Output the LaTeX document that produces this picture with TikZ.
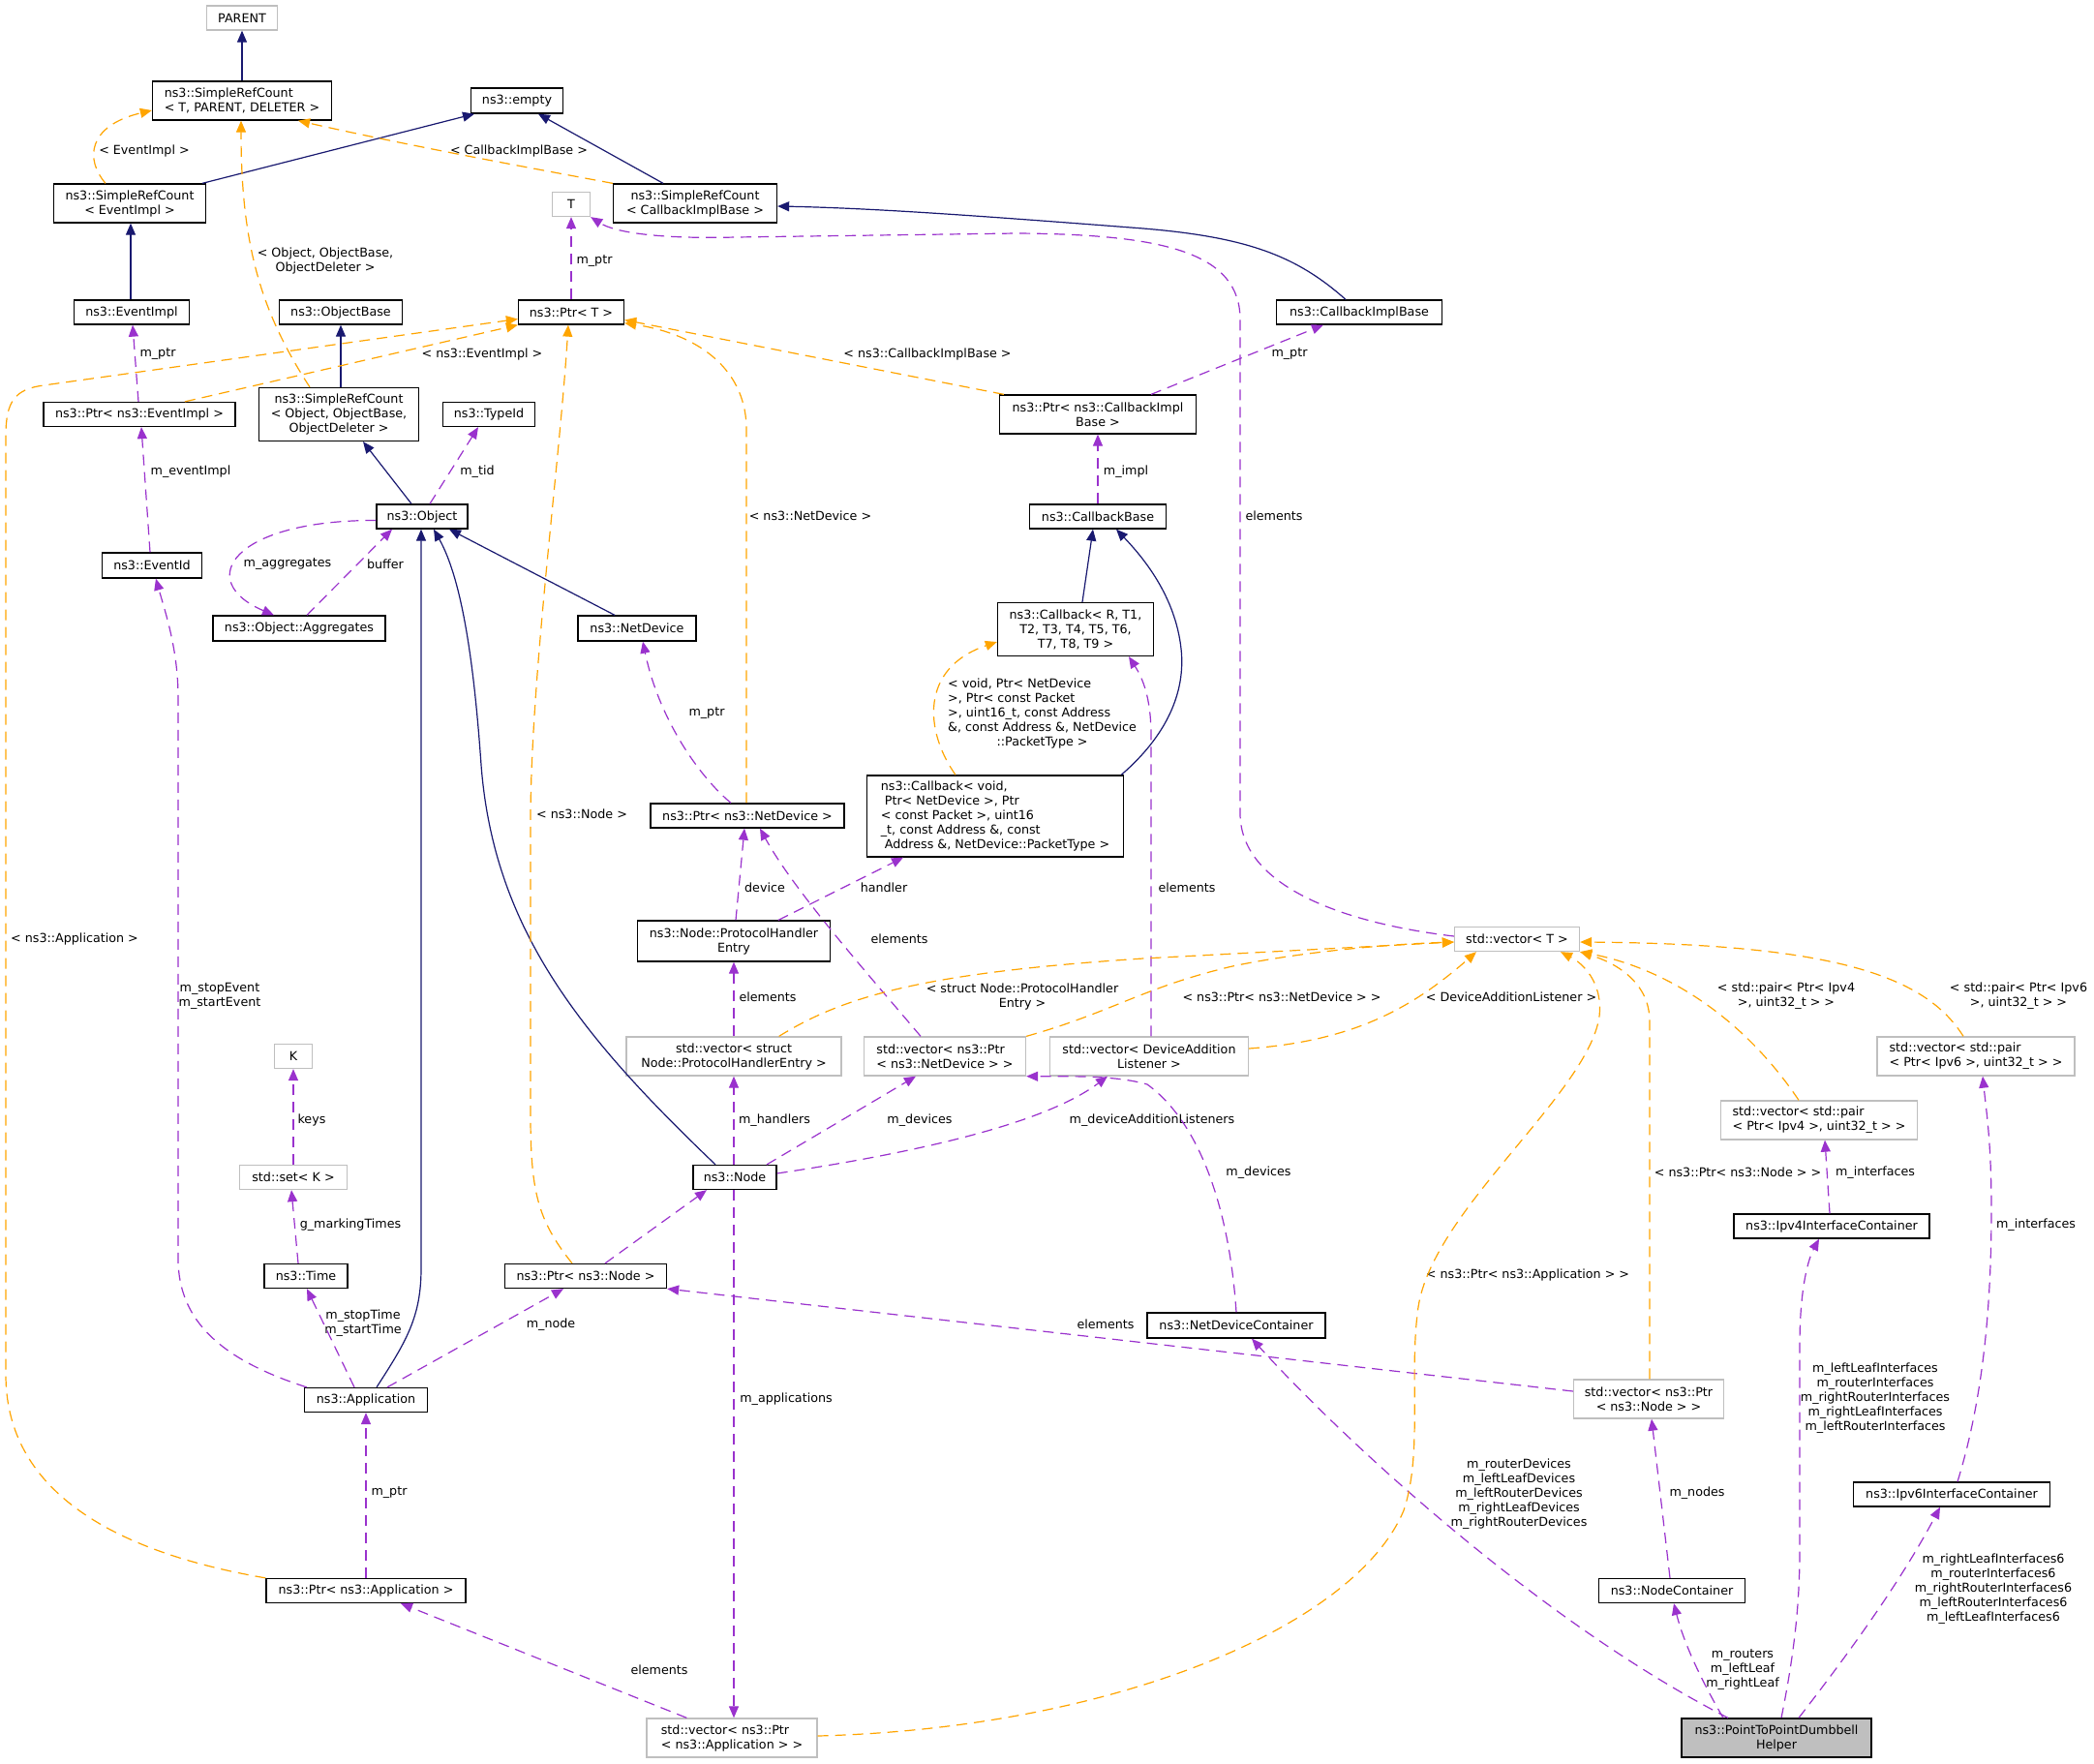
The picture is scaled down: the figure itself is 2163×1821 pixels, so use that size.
\documentclass[tikz,border=0pt]{standalone}
\usepackage{fontspec}
\setmainfont{DejaVu Sans}
\usetikzlibrary{arrows.meta,calc}
\definecolor{navy}{HTML}{191970}
\definecolor{purp}{HTML}{9A32CD}
\definecolor{orng}{HTML}{FFA500}
\definecolor{gbd}{HTML}{BFBFBF}
\newcommand\dxf{\fontsize{12.7}{15}\selectfont}
\begin{document}
\begin{tikzpicture}[x=1pt,y=-1pt,
 cbox/.style={draw=black, line width=1.3pt, fill=white, inner sep=0pt, minimum height=25pt, align=center, font=\dxf},
 gbox/.style={cbox, draw=gbd},
 lab/.style={inner sep=0pt, align=center, font=\dxf},
 inhl/.style={draw=navy, line width=1.2pt, -{Triangle[length=12pt,width=10pt]}},
 usel/.style={draw=purp, line width=1.2pt, dash pattern=on 11pt off 7pt, -{Triangle[length=12pt,width=10pt]}},
 tpll/.style={draw=orng, line width=1.2pt, dash pattern=on 11pt off 7pt, -{Triangle[length=12pt,width=10pt]}}]
\fill[white] (0,0) rectangle (2163,1821);
\useasboundingbox (0,0) rectangle (2163,1821);

% nodes
\node[gbox, minimum width=73pt] (parent) at (250,18.5) {PARENT};
\node[cbox, minimum width=185pt, minimum height=40pt, align=left] (srcTPD) at (250,104) {ns3::SimpleRefCount\\< T, PARENT, DELETER >};
\node[cbox, minimum width=95pt, minimum height=26pt] (empty) at (534,104) {ns3::empty};
\node[cbox, minimum width=157pt, minimum height=40pt] (srcEI) at (134,210) {ns3::SimpleRefCount\\< EventImpl >};
\node[gbox, minimum width=39pt] (T) at (590,211) {T};
\node[cbox, minimum width=169pt, minimum height=40pt] (srcCIB) at (718,210) {ns3::SimpleRefCount\\< CallbackImplBase >};
\node[cbox, minimum width=119pt] (eventimpl) at (136,322.5) {ns3::EventImpl};
\node[cbox, minimum width=127pt] (objectbase) at (352,322.5) {ns3::ObjectBase};
\node[cbox, minimum width=109pt] (ptrT) at (590,322.5) {ns3::Ptr< T >};
\node[cbox, minimum width=171pt] (cib) at (1404,322.5) {ns3::CallbackImplBase};
\node[cbox, minimum width=198pt] (ptrEI) at (144,428) {ns3::Ptr< ns3::EventImpl >};
\node[cbox, minimum width=165pt, minimum height=55pt] (srcO) at (350,428) {ns3::SimpleRefCount\\< Object, ObjectBase,\\ ObjectDeleter >};
\node[cbox, minimum width=95pt] (typeid) at (505,428) {ns3::TypeId};
\node[cbox, minimum width=203pt, minimum height=40pt] (ptrCIB) at (1134,428) {ns3::Ptr< ns3::CallbackImpl\\Base >};
\node[cbox, minimum width=94pt] (object) at (436,533.5) {ns3::Object};
\node[cbox, minimum width=141pt] (cbbase) at (1134,533.5) {ns3::CallbackBase};
\node[cbox, minimum width=103pt, minimum height=26pt] (eventid) at (157,584) {ns3::EventId};
\node[cbox, minimum width=178pt, minimum height=26pt] (aggregates) at (309,649) {ns3::Object::Aggregates};
\node[cbox, minimum width=122pt, minimum height=26pt] (netdevice) at (658,649) {ns3::NetDevice};
\node[cbox, minimum width=161pt, minimum height=55pt] (cbR) at (1111,650) {ns3::Callback< R, T1,\\T2, T3, T4, T5, T6,\\T7, T8, T9 >};
\node[cbox, minimum width=200pt] (ptrND) at (772,842.5) {ns3::Ptr< ns3::NetDevice >};
\node[cbox, minimum width=265pt, minimum height=84pt, align=left] (cbvoid) at (1028,843) {ns3::Callback< void,\\\hspace*{4pt}Ptr< NetDevice >, Ptr\\< const Packet >, uint16\\\_t, const Address \&, const\\\hspace*{4pt}Address \&, NetDevice::PacketType >};
\node[cbox, minimum width=199pt, minimum height=42pt] (phe) at (758,972) {ns3::Node::ProtocolHandler\\Entry};
\node[gbox, minimum width=129pt] (vecT) at (1567,970) {std::vector< T >};
\node[gbox, minimum width=222pt, minimum height=40pt] (vecsPHE) at (758,1091) {std::vector< struct\\Node::ProtocolHandlerEntry >};
\node[gbox, minimum width=167pt, minimum height=40pt, align=left] (vecPND) at (976,1091) {std::vector< ns3::Ptr\\< ns3::NetDevice > >};
\node[gbox, minimum width=205pt, minimum height=40pt] (vecDAL) at (1187,1091) {std::vector< DeviceAddition\\Listener >};
\node[gbox, minimum width=204pt, minimum height=40pt, align=left] (vecP6) at (2041,1091) {std::vector< std::pair\\< Ptr< Ipv6 >, uint32\_t > >};
\node[gbox, minimum width=39pt] (K) at (303,1091) {K};
\node[gbox, minimum width=203pt, minimum height=40pt, align=left] (vecP4) at (1879,1157) {std::vector< std::pair\\< Ptr< Ipv4 >, uint32\_t > >};
\node[gbox, minimum width=111pt] (setK) at (303,1216) {std::set< K >};
\node[cbox, minimum width=86pt] (node) at (759,1216) {ns3::Node};
\node[cbox, minimum width=202pt] (ipv4ic) at (1892,1266.5) {ns3::Ipv4InterfaceContainer};
\node[cbox, minimum width=86pt] (time) at (316,1318) {ns3::Time};
\node[cbox, minimum width=167pt] (ptrNode) at (605,1318) {ns3::Ptr< ns3::Node >};
\node[cbox, minimum width=184pt, minimum height=26pt] (ndc) at (1277,1369) {ns3::NetDeviceContainer};
\node[gbox, minimum width=155pt, minimum height=40pt] (vecPNode) at (1703,1445) {std::vector< ns3::Ptr\\< ns3::Node > >};
\node[cbox, minimum width=127pt] (application) at (378,1446) {ns3::Application};
\node[cbox, minimum width=203pt] (ipv6ic) at (2016,1543.5) {ns3::Ipv6InterfaceContainer};
\node[cbox, minimum width=206pt] (ptrApp) at (378,1643) {ns3::Ptr< ns3::Application >};
\node[cbox, minimum width=151pt] (nodecontainer) at (1727,1643) {ns3::NodeContainer};
\node[gbox, minimum width=176pt, minimum height=40pt, align=left] (vecPApp) at (756,1795) {std::vector< ns3::Ptr\\< ns3::Application > >};
\node[cbox, fill=gbd, minimum width=196pt, minimum height=40pt] (helper) at (1835,1795) {ns3::PointToPointDumbbell\\Helper};

% labels
\node[lab] (la1) at (149,156) {< EventImpl >};
\node[lab] (la2) at (536,156) {< CallbackImplBase >};
\node[lab] (la3) at (336,269) {< Object, ObjectBase,\\ ObjectDeleter >};
\node[lab] (la4) at (614,270) {m\_ptr};
\node[lab] (la5) at (163,366) {m\_ptr};
\node[lab] (la6) at (498,366) {< ns3::EventImpl >};
\node[lab] (la7) at (958,366) {< ns3::CallbackImplBase >};
\node[lab] (la8) at (1332,366) {m\_ptr};
\node[lab] (la9) at (197,487) {m\_eventImpl};
\node[lab] (la10) at (493,487) {m\_tid};
\node[lab] (la11) at (1163,487) {m\_impl};
\node[lab] (la12) at (297,583) {m\_aggregates};
\node[lab] (la13) at (398,583) {buffer};
\node[lab] (la14) at (837,533) {< ns3::NetDevice >};
\node[lab] (la15) at (1316,533) {elements};
\node[lab, anchor=west] (la16) at (979,737) {\begin{tabular}{@{}l@{}}< void, Ptr< NetDevice\\>, Ptr< const Packet\\>, uint16\_t, const Address\\\&, const Address \&, NetDevice\\\multicolumn{1}{@{}c@{}}{::PacketType >}\end{tabular}};
\node[lab] (la17) at (730,737) {m\_ptr};
\node[lab] (la18) at (601,841) {< ns3::Node >};
\node[lab] (la19) at (790,917) {device};
\node[lab] (la20) at (913,917) {handler};
\node[lab] (la21) at (1226,917) {elements};
\node[lab] (la22) at (929,970) {elements};
\node[lab] (la23) at (77,970) {< ns3::Application >};
\node[lab] (la24) at (1056,1029) {< struct Node::ProtocolHandler\\Entry >};
\node[lab] (la25) at (793,1030) {elements};
\node[lab] (la26) at (1324,1030) {< ns3::Ptr< ns3::NetDevice > >};
\node[lab] (la27) at (1561,1030) {< DeviceAdditionListener >};
\node[lab] (la28) at (1845,1029) {< std::pair< Ptr< Ipv4\\>, uint32\_t > >};
\node[lab] (la29) at (2085,1029) {< std::pair< Ptr< Ipv6\\>, uint32\_t > >};
\node[lab] (la30) at (227,1029) {m\_stopEvent\\m\_startEvent};
\node[lab] (la31) at (322,1157) {keys};
\node[lab] (la32) at (800,1157) {m\_handlers};
\node[lab] (la33) at (950,1157) {m\_devices};
\node[lab] (la34) at (1190,1157) {m\_deviceAdditionListeners};
\node[lab] (la35) at (1300,1211) {m\_devices};
\node[lab] (la36) at (1795,1211) {< ns3::Ptr< ns3::Node > >};
\node[lab] (la37) at (1937,1211) {m\_interfaces};
\node[lab] (la38) at (362,1265) {g\_markingTimes};
\node[lab] (la39) at (2103,1265) {m\_interfaces};
\node[lab] (la40) at (1578,1317) {< ns3::Ptr< ns3::Application > >};
\node[lab] (la41) at (375,1367) {m\_stopTime\\m\_startTime};
\node[lab] (la42) at (569,1368) {m\_node};
\node[lab] (la43) at (1142,1368) {elements};
\node[lab] (la44) at (1937,1444) {m\_leftLeafInterfaces\\m\_routerInterfaces\\m\_rightRouterInterfaces\\m\_rightLeafInterfaces\\m\_leftRouterInterfaces};
\node[lab] (la45) at (812,1445) {m\_applications};
\node[lab] (la46) at (1569,1543) {m\_routerDevices\\m\_leftLeafDevices\\m\_leftRouterDevices\\m\_rightLeafDevices\\m\_rightRouterDevices};
\node[lab] (la47) at (402,1542) {m\_ptr};
\node[lab] (la48) at (1753,1542) {m\_nodes};
\node[lab] (la49) at (2059,1641) {m\_rightLeafInterfaces6\\m\_routerInterfaces6\\m\_rightRouterInterfaces6\\m\_leftRouterInterfaces6\\m\_leftLeafInterfaces6};
\node[lab] (la50) at (681,1725) {elements};
\node[lab] (la51) at (1800,1725) {m\_routers\\m\_leftLeaf\\m\_rightLeaf};

% inheritance
\draw[inhl] (srcTPD.north) -- (parent.south);
\draw[inhl] ($(srcEI.north)+(75,0)$) -- ($(empty.south)+(-44,0)$);
\draw[inhl] ($(srcCIB.north)+(-33,0)$) -- ($(empty.south)+(22,0)$);
\draw[inhl] ($(eventimpl.north)+(-1,0)$) -- ($(srcEI.south)+(1,0)$);
\draw[inhl] ($(cib.north)+(-14,0)$) .. controls (1340,265) and (1290,245) .. (1181,236) .. controls (1000,222) and (900,215) .. ($(srcCIB.east)+(0,3)$);
\draw[inhl] ($(srcO.north)+(2,0)$) -- (objectbase.south);
\draw[inhl] ($(object.north)+(-11,0)$) -- ($(srcO.south)+(25,0)$);
\draw[inhl] ($(netdevice.north)+(-23,0)$) -- ($(object.south)+(28,0)$);
\draw[inhl] ($(node.north)+(-20,0)$) .. controls (600,1070) and (510,960) .. (497,790) .. controls (490,690) and (478,600) .. ($(object.south)+(12,0)$);
\draw[inhl] ($(application.north)+(11,0)$) .. controls (420,1385) and (435,1360) .. (435,1310) -- ($(object.south)+(-1,0)$);
\draw[inhl] ($(cbR.north)+(7,0)$) -- ($(cbbase.south)+(-5,0)$);
\draw[inhl] ($(cbvoid.north east)+(-3,0)$) .. controls (1205,760) and (1225,715) .. (1220,670) .. controls (1214,615) and (1180,575) .. ($(cbbase.south)+(19,0)$);

% usage
\draw[usel] (ptrT.north) -- (T.south);
\draw[usel] ($(vecT.west)+(0,-3)$) .. controls (1400,955) and (1281,920) .. (1281,840) -- (1281,330) .. controls (1281,260) and (1200,242) .. (1050,241) -- (760,245) .. controls (680,247) and (635,240) .. (T.south east);
\draw[usel] ($(ptrEI.north)+(-1,0)$) -- ($(eventimpl.south)+(1,0)$);
\draw[usel] ($(eventid.north)+(-2,0)$) -- ($(ptrEI.south)+(2,0)$);
\draw[usel] ($(object.north)+(8,0)$) -- ($(typeid.south)+(-11,0)$);
\draw[usel] ($(aggregates.north)+(8,0)$) -- ($(object.south)+(-31,0)$);
\draw[usel] ($(object.west)+(0,4)$) .. controls (240,537) and (200,600) .. ($(aggregates.north)+(-26,0)$);
\draw[usel] ($(ptrND.north)+(-17,0)$) .. controls (720,800) and (680,740) .. ($(netdevice.south)+(6,0)$);
\draw[usel] ($(ptrCIB.north)+(55,0)$) -- ($(cib.south)+(-37,0)$);
\draw[usel] (cbbase.north) -- (ptrCIB.south);
\draw[usel] ($(phe.north)+(2,0)$) -- ($(ptrND.south)+(-3,0)$);
\draw[usel] ($(phe.north)+(46,0)$) -- ($(cbvoid.south)+(-95,0)$);
\draw[usel] ($(vecPND.north)+(-25,0)$) .. controls (900,1010) and (820,920) .. ($(ptrND.south)+(13,0)$);
\draw[usel] (vecsPHE.north) -- (phe.south);
\draw[usel] ($(vecDAL.north)+(2,0)$) -- (1189,760) .. controls (1189,720) and (1180,700) .. ($(cbR.south)+(55,0)$);
\draw[usel] ($(node.north)+(-1,0)$) -- (vecsPHE.south);
\draw[usel] ($(node.north)+(33,0)$) -- ($(vecPND.south)+(-30,0)$);
\draw[usel] ($(node.east)+(0,-4)$) .. controls (950,1190) and (1080,1160) .. ($(vecDAL.south)+(-43,0)$);
\draw[usel] (ndc.north) .. controls (1270,1250) and (1240,1160) .. (1185,1120) .. controls (1150,1110) and (1100,1112) .. (vecPND.south east);
\draw[usel] ($(ptrNode.north)+(20,0)$) -- ($(node.south)+(-29,0)$);
\draw[usel] ($(vecPNode.west)+(0,-8)$) -- (ptrNode.south east);
\draw[usel] ($(application.north)+(22,0)$) -- ($(ptrNode.south)+(-23,0)$);
\draw[usel] ($(application.north)+(-12,0)$) -- ($(time.south)+(1,0)$);
\draw[usel] ($(time.north)+(-8,0)$) -- ($(setK.south)+(-2,0)$);
\draw[usel] (setK.north) -- (K.south);
\draw[usel] ($(application.north west)+(3,0)$) .. controls (230,1405) and (184,1365) .. (184,1300) -- (184,720) .. controls (184,670) and (170,630) .. ($(eventid.south)+(4,0)$);
\draw[usel] (ptrApp.north) -- (application.south);
\draw[usel] ($(vecPApp.north west)+(42,0)$) -- ($(ptrApp.south)+(36,0)$);
\draw[usel] ($(node.south)+(-1,0)$) -- ($(vecPApp.north)+(2,0)$);
\draw[usel] ($(nodecontainer.north)+(-2,0)$) -- ($(vecPNode.south)+(3,0)$);
\draw[usel] ($(ipv4ic.north)+(-2,0)$) -- ($(vecP4.south)+(6,0)$);
\draw[usel] ($(ipv6ic.north)+(6,0)$) .. controls (2050,1440) and (2057,1340) .. (2057,1250) .. controls (2057,1180) and (2052,1150) .. ($(vecP6.south)+(7,0)$);
\draw[usel] ($(helper.north)+(-50,0)$) .. controls (1600,1680) and (1400,1500) .. ($(ndc.south)+(16,0)$);
\draw[usel] ($(helper.north)+(-55,0)$) .. controls (1760,1740) and (1740,1700) .. ($(nodecontainer.south)+(2,0)$);
\draw[usel] ($(helper.north)+(5,0)$) .. controls (1855,1700) and (1859,1650) .. (1859,1600) -- (1859,1390) .. controls (1859,1330) and (1868,1300) .. ($(ipv4ic.south)+(-13,0)$);
\draw[usel] ($(helper.north)+(23,0)$) .. controls (1900,1720) and (1960,1640) .. ($(ipv6ic.south)+(-12,0)$);

% template instances
\draw[tpll] ($(srcEI.north)+(-25,0)$) .. controls (88,165) and (90,130) .. ($(srcTPD.west)+(0,10)$);
\draw[tpll] (srcCIB.north west) .. controls (540,172) and (420,150) .. ($(srcTPD.south)+(58,0)$);
\draw[tpll] ($(srcO.north)+(-30,0)$) .. controls (268,320) and (249,250) .. ($(srcTPD.south)+(-1,0)$);
\draw[tpll] ($(ptrEI.north)+(47,0)$) -- (ptrT.south west);
\draw[tpll] (ptrApp.north west) .. controls (100,1600) and (6,1530) .. (6,1420) -- (6,450) .. controls (6,415) and (15,402) .. (45,398) -- ($(ptrT.west)+(0,7)$);
\draw[tpll] ($(ptrNode.north)+(-14,0)$) .. controls (555,1260) and (548,1230) .. (548,1150) -- (548,850) .. controls (548,700) and (578,480) .. ($(ptrT.south)+(-3,0)$);
\draw[tpll] ($(ptrND.north)+(-1,0)$) -- (771,440) .. controls (769,380) and (720,345) .. ($(ptrT.south east)+(0,-2)$);
\draw[tpll] ($(ptrCIB.north west)+(5,0)$) -- ($(ptrT.east)+(0,8)$);
\draw[tpll] ($(cbvoid.north)+(-41,0)$) .. controls (955,755) and (950,690) .. ($(cbR.west)+(0,13)$);
\draw[tpll] ($(vecsPHE.north east)+(-65,0)$) .. controls (870,1030) and (950,1005) .. (1181,990) -- ($(vecT.west)+(0,3)$);
\draw[tpll] (vecPND.north east) .. controls (1150,1045) and (1180,1020) .. (1273,998) .. controls (1350,982) and (1440,975) .. ($(vecT.west)+(0,3)$);
\draw[tpll] ($(vecDAL.east)+(0,-8)$) .. controls (1400,1075) and (1460,1040) .. ($(vecT.south)+(-42,0)$);
\draw[tpll] ($(vecPApp.east)+(0,-2)$) .. controls (1150,1785) and (1400,1680) .. (1450,1560) .. controls (1470,1500) and (1455,1420) .. (1465,1350) .. controls (1480,1250) and (1640,1130) .. (1652,1050) .. controls (1656,1015) and (1635,995) .. ($(vecT.south)+(45,0)$);
\draw[tpll] ($(vecPNode.north)+(1,0)$) -- (1704,1055) .. controls (1704,1015) and (1670,995) .. (vecT.south east);
\draw[tpll] ($(vecP4.north)+(-21,0)$) .. controls (1800,1050) and (1720,1000) .. (vecT.south east);
\draw[tpll] ($(vecP6.north)+(-13,0)$) .. controls (1990,1010) and (1900,975) .. ($(vecT.east)+(0,3)$);
\end{tikzpicture}
\end{document}
